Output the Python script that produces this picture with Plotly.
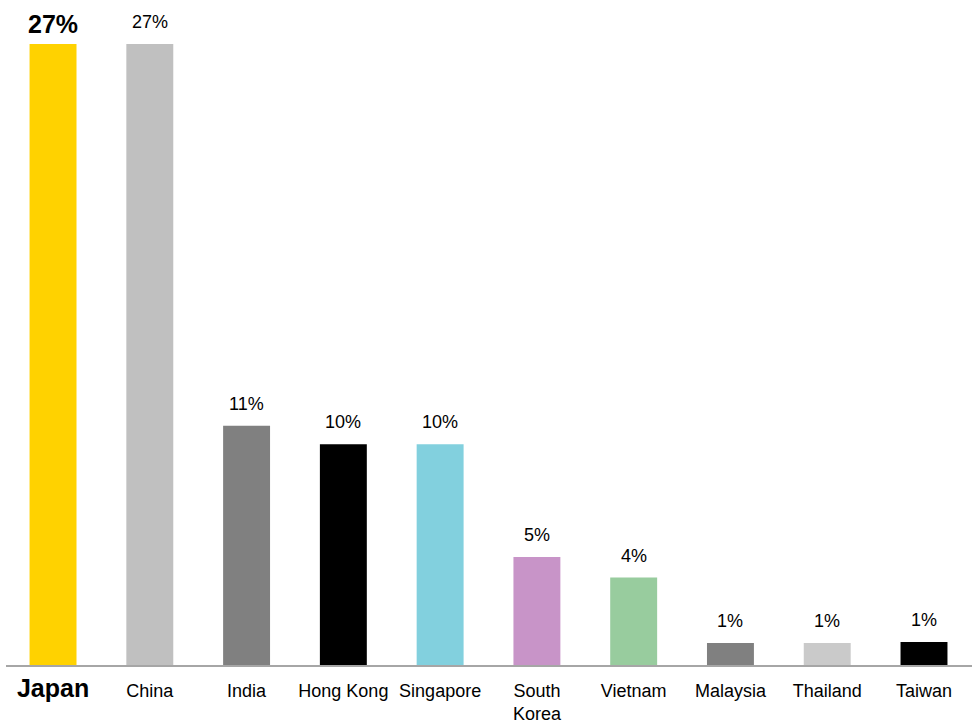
import plotly.graph_objects as go

categories = ["Japan", "China", "India", "Hong Kong", "Singapore", "South Korea",
              "Vietnam", "Malaysia", "Thailand", "Taiwan"]
tick_labels = ["<b><span style='font-size:25px'>Japan</span></b>", "China", "India", "Hong Kong",
               "Singapore", "South<br>Korea", "Vietnam", "Malaysia", "Thailand", "Taiwan"]
values = [27.0, 27.0, 10.4, 9.6, 9.6, 4.7, 3.8, 0.96, 0.96, 1.0]
value_labels = ["27%", "27%", "11%", "10%", "10%", "5%", "4%", "1%", "1%", "1%"]
bar_colors = ["#FFD200", "#C0C0C0", "#808080", "#000000", "#82D0DE",
              "#C894C8", "#98CC9E", "#808080", "#CACACA", "#000000"]

FONT = "Liberation Sans, Arial"

fig = go.Figure(go.Bar(
    x=categories,
    y=values,
    marker=dict(color=bar_colors, line=dict(width=0)),
    cliponaxis=False,
    hoverinfo="skip",
))

for i, (cat, val, lab) in enumerate(zip(categories, values, value_labels)):
    highlight = i == 0
    fig.add_annotation(
        x=cat, y=val, xref="x", yref="y",
        text=f"<b>{lab}</b>" if highlight else lab,
        showarrow=False, yanchor="middle",
        yshift=20 if highlight else 22,
        font=dict(family=FONT, size=25 if highlight else 18, color="#000000"),
    )

fig.update_layout(
    width=972, height=721,
    margin=dict(l=6, r=0, t=44, b=56),
    paper_bgcolor="white", plot_bgcolor="white",
    bargap=0.515,
    showlegend=False,
    font=dict(family=FONT, size=18, color="#000000"),
)
fig.update_xaxes(
    tickmode="array", tickvals=categories, ticktext=tick_labels,
    range=[-0.486, 9.496],
    showline=True, linecolor="#A6A6A6", linewidth=2,
    showgrid=False, ticks="", tickfont=dict(size=18),
    automargin=False, ticklabelstandoff=8,
)
fig.update_yaxes(range=[0, 27], visible=False, showgrid=False, zeroline=False,
                 automargin=False)

fig.write_html(
    "out.html",
    config={"displayModeBar": False},
    post_script="document.body.style.margin='0px';document.body.style.overflow='hidden';",
)
